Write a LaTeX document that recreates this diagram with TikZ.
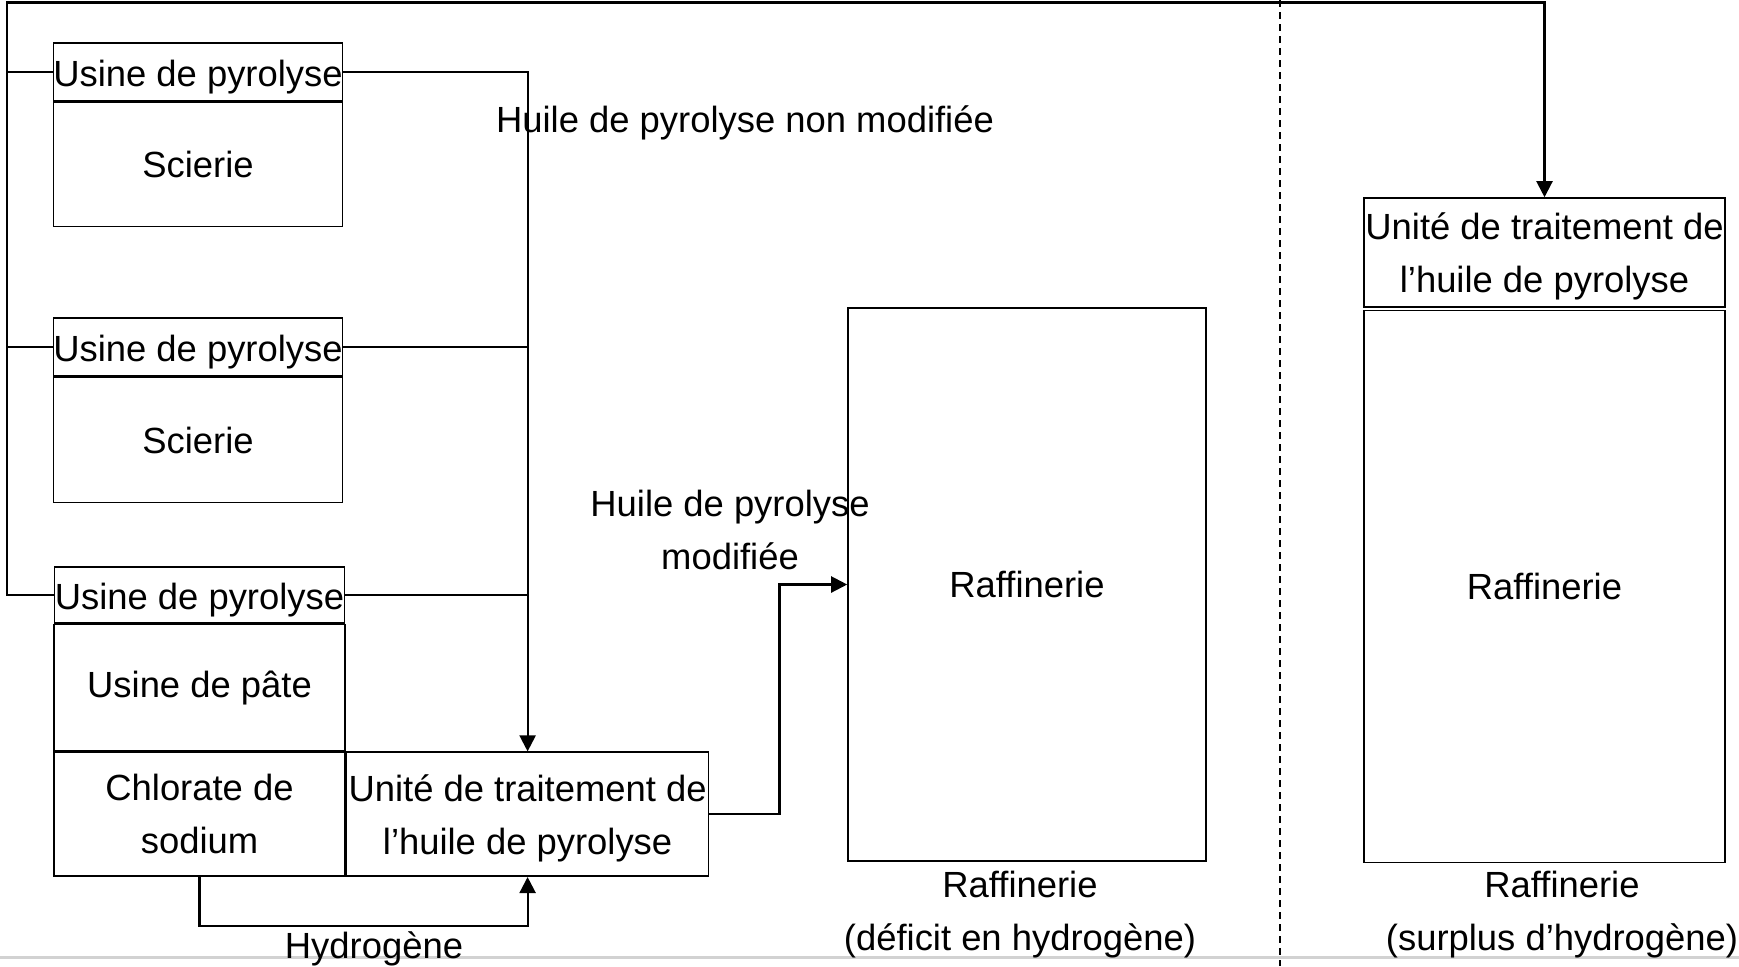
\documentclass[tikz,border=0pt]{standalone}
\usepackage{fontspec}
\setmainfont{Liberation Sans}
\usepackage{tikz}
\usetikzlibrary{arrows.meta,positioning}

\begin{document}
\begin{tikzpicture}[x=0.5pt,y=-0.5pt,
		every node/.style={font=\fontsize{18.2}{26.5}\selectfont},
		unitbox/.style={draw,line width=0.8pt,inner sep=0pt,align=center},
		pyrobox/.style={unitbox,minimum width=144pt,minimum height=29pt,text height=17.8pt},
		millbox/.style={unitbox,minimum width=144.5pt,minimum height=62pt},
		treatbox/.style={unitbox,minimum width=181pt,minimum height=62pt,text depth=0pt},
		refbox/.style={unitbox,minimum width=179pt,minimum height=276.5pt},
		caption/.style={align=center,inner sep=0pt},
		flow/.style={line width=1.1pt},
		flowarrow/.style={flow,-{Triangle[length=8pt,width=8pt]}}]
		\useasboundingbox (0,0) rectangle (1739,966);
		\draw[gray!35,line width=1.5pt] (0,957) -- (1739,957);
		\node[pyrobox] (pyroA) at (198,72) {Usine de pyrolyse};
		\node[millbox,below=0pt of pyroA] (scieA) {Scierie};
		\node[pyrobox] (pyroB) at (198,347) {Usine de pyrolyse};
		\node[millbox,below=0pt of pyroB,minimum height=62.5pt] (scieB) {Scierie};
		\node[pyrobox,minimum width=145pt,minimum height=28pt] (pyroC) at (199.5,595) {Usine de pyrolyse};
		\node[millbox,below=0pt of pyroC,minimum width=145.5pt,minimum height=63pt] (pulp) {Usine de p\^ate};
		\node[millbox,below=0pt of pulp,minimum width=145.5pt] (chlor) {Chlorate de\\sodium};
		\node[treatbox,right=0pt of chlor] (unitL) {Unit\'e de traitement de\\l’huile de pyrolyse};
		\node[refbox] (rafL) at (1027,584.5) {Raffinerie};
		\node[caption] (capL) at (1020,915) {Raffinerie\\(d\'eficit en hydrog\`ene)};
		\node[treatbox,minimum width=180.5pt,minimum height=54.5pt,text depth=-1.5pt] (unitR) at (1544.5,252.5) {Unit\'e de traitement de\\l’huile de pyrolyse};
		\node[refbox,below=1pt of unitR,minimum width=180.5pt,minimum height=276pt] (rafR) {Raffinerie};
		\node[caption] (capR) at (1562,915) {Raffinerie\\(surplus d’hydrog\`ene)};
		\node[caption] (oilraw) at (745,122.5) {Huile de pyrolyse non modifi\'ee};
		\node[caption] (oilmod) at (730,529.5) {Huile de pyrolyse\\modifi\'ee};
		\node[caption] (hydro) at (374,949) {Hydrog\`ene};
		\coordinate (busL) at (7,2.5);
		\draw[dashed,dash pattern=on 3.5pt off 2.5pt,line width=0.6pt] (1280,0) -- (1280,966);
		\draw[flowarrow] (pyroC.west) -| (busL) -| (unitR.north);
		\draw[flow] (pyroA.west) -- (pyroA.west -| busL);
		\draw[flow] (pyroB.west) -- (pyroB.west -| busL);
		\draw[flowarrow] (pyroA.east) -| (unitL.north);
		\draw[flow] (pyroB.east) -- (pyroB.east -| unitL.north);
		\draw[flow] (pyroC.east) -- (pyroC.east -| unitL.north);
		\draw[flowarrow] (chlor.south) -- ++(0,49) -| (unitL.south);
		\draw[flowarrow] (unitL.east) -- ++(70,0) |- (rafL.west);
	\end{tikzpicture}
\end{document}
